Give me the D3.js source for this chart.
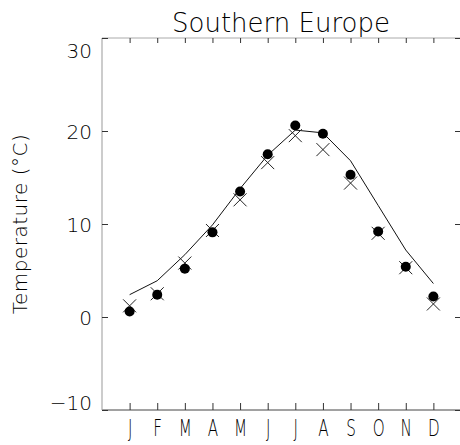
<!DOCTYPE html>
<html>
<head>
<meta charset="utf-8">
<script src="https://cdn.jsdelivr.net/npm/d3@7"></script>
<style>
  html, body { margin: 0; padding: 0; background: #fff; }
  text { font-family: "DejaVu Sans", sans-serif; font-weight: 200; fill: #000; }
</style>
</head>
<body>
<div id="chart"></div>
<script>
// ---------------------------
// DATA
// ---------------------------
const months = ["J", "F", "M", "A", "M", "J", "J", "A", "S", "O", "N", "D"];
const lineValues  = [2.4, 3.9, 6.7, 9.9, 13.8, 17.4, 20.1, 19.8, 16.8, 12.0, 7.2, 3.6];
const dotValues   = [0.6, 2.4, 5.2, 9.1, 13.5, 17.5, 20.6, 19.7, 15.3, 9.2, 5.4, 2.2];
const crossValues = [1.2, 2.5, 5.8, 9.3, 12.6, 16.6, 19.5, 18.0, 14.4, 9.0, 5.3, 1.4];
const yTicks = [-10, 0, 10, 20, 30];

// ---------------------------
// LAYOUT
// ---------------------------
const width = 460, height = 445;
const plot = { left: 102, right: 461, top: 38, bottom: 410 };

const svg = d3.select("#chart").append("svg")
  .attr("width", width)
  .attr("height", height);

const x = d3.scaleLinear().domain([0, 13]).range([plot.left, plot.right]);
const y = d3.scaleLinear().domain([-10, 30]).range([plot.bottom, plot.top]);

// frame lines
svg.append("line").attr("x1", plot.left).attr("x2", plot.right).attr("y1", plot.top).attr("y2", plot.top)
  .attr("stroke", "#aaa");
svg.append("line").attr("x1", plot.left).attr("x2", plot.right).attr("y1", plot.bottom).attr("y2", plot.bottom)
  .attr("stroke", "#444");
svg.append("line").attr("x1", plot.left).attr("x2", plot.left).attr("y1", plot.top).attr("y2", plot.bottom)
  .attr("stroke", "#999");

const idx = d3.range(1, 13);

// ---------------------------
// AXES
// ---------------------------
const xAxis = svg.append("g")
  .attr("transform", `translate(0,${plot.bottom})`)
  .call(d3.axisBottom(x).tickValues(idx).tickSize(-7).tickPadding(10)
    .tickFormat(d => months[d - 1]));
xAxis.select(".domain").remove();
xAxis.selectAll(".tick line").attr("stroke", "#333");
xAxis.selectAll(".tick text")
  .style("font-size", "23px")
  .attr("transform", "scale(0.66,1)")
  .attr("fill", "#000");

// top ticks
svg.append("g")
  .attr("transform", `translate(0,${plot.top})`)
  .call(d3.axisTop(x).tickValues(idx).tickSize(-5).tickFormat(""))
  .call(g => g.select(".domain").remove())
  .selectAll(".tick line").attr("stroke", "#333");

const yAxis = svg.append("g")
  .attr("transform", `translate(${plot.left},0)`)
  .call(d3.axisLeft(y).tickValues(yTicks).tickSize(-6).tickPadding(10));
yAxis.select(".domain").remove();
yAxis.selectAll(".tick line").attr("stroke", "#333");
yAxis.selectAll(".tick text")
  .style("font-size", "20px")
  .attr("fill", "#000")
  .attr("dy", d => d === 30 ? "0.95em" : d === -10 ? "-0.05em" : "0.36em");

// right ticks (axis line sits just off the page)
svg.append("g")
  .attr("transform", `translate(${plot.right},0)`)
  .call(d3.axisRight(y).tickValues(yTicks).tickSize(-6).tickFormat(""))
  .call(g => g.select(".domain").remove())
  .selectAll(".tick line").attr("stroke", "#333");

// ---------------------------
// TITLES
// ---------------------------
svg.append("text")
  .attr("x", 281)
  .attr("y", 32)
  .attr("text-anchor", "middle")
  .style("font-size", "26px")
  .text("Southern Europe");

svg.append("text")
  .attr("transform", `translate(27,${(plot.top + plot.bottom) / 2}) rotate(-90)`)
  .attr("text-anchor", "middle")
  .style("font-size", "20px")
  .style("letter-spacing", "0.5px")
  .text("Temperature (°C)");

// ---------------------------
// DATA MARKS
// ---------------------------
const line = d3.line()
  .x((d, i) => x(i + 1))
  .y(d => y(d));

svg.append("path")
  .datum(lineValues)
  .attr("d", line)
  .attr("fill", "none")
  .attr("stroke", "#111")
  .attr("stroke-width", 1);

const cs = 6.5;
svg.append("g").selectAll("path")
  .data(crossValues)
  .join("path")
  .attr("d", (d, i) => {
    const cx = x(i + 1), cy = y(d);
    return `M${cx - cs},${cy - cs}L${cx + cs},${cy + cs}M${cx - cs},${cy + cs}L${cx + cs},${cy - cs}`;
  })
  .attr("stroke", "#222")
  .attr("stroke-width", 1)
  .attr("fill", "none");

svg.append("g").selectAll("circle")
  .data(dotValues)
  .join("circle")
  .attr("cx", (d, i) => x(i + 1))
  .attr("cy", d => y(d))
  .attr("r", 5)
  .attr("fill", "#000");
</script>
</body>
</html>
